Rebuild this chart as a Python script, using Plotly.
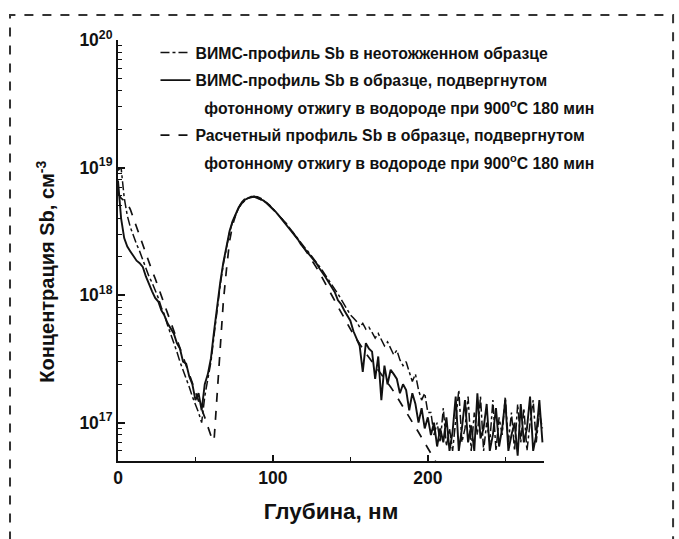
import numpy as np
import plotly.graph_objects as go

# Depth grid of the SIMS / model profiles, nm
DEPTH_STEP = 2.0

# Sb concentration, units of 1e17 cm^-3
sb_unannealed = [
    95, 100, 58, 42, 34, 29, 25, 22, 19, 16,
    14, 12.5, 11, 9.5, 8.0, 7.0, 5.8, 5.0, 4.3, 3.6,
    3.0, 2.6, 2.2, 1.9, 1.6, 1.4, 1.2, 1.0, 1.6, 2.2,
    3.0, 4.8, 7.8, 12, 17.5, 23.5, 31, 37.5, 43, 48.5,
    52, 55.5, 57.5, 58.5, 59, 58, 56.5, 55, 53, 50.5,
    47.5, 45, 42, 39.5, 37, 34.5, 32, 30, 28, 26,
    24, 22.5, 21, 19.5, 18.2, 16.8, 15.5, 14.3, 13.2, 12.2,
    11.2, 10.2, 9.3, 8.5, 7.8, 7.0, 6.6, 6.2, 5.6, 6.0,
    5.4, 5.6, 5.1, 4.6, 5.0, 4.4, 4.0, 4.3, 3.8, 3.4,
    3.7, 3.1, 2.8, 3.0, 2.5, 2.1, 2.4, 1.8, 1.5, 1.7,
    1.2, 1.2, 0.8, 1.0, 0.7, 1.3, 0.65, 0.9, 0.6, 1.1,
    1.8, 0.7, 0.9, 1.6, 0.6, 1.2, 0.8, 1.6, 0.6, 1.0,
    0.7, 1.5, 0.6, 1.1, 0.8, 1.6, 0.7, 1.2, 0.6, 1.4,
    0.7, 1.3, 0.6, 1.0, 1.5, 0.7, 1.2, 0.9,
]

sb_annealed = [
    79, 40, 28, 24, 22, 20, 18.6, 17.8, 16.6, 14,
    12, 10.7, 9.5, 8.9, 7.6, 6.9, 6.0, 5.5, 5.0, 4.2,
    3.8, 3.0, 2.9, 2.3, 2.0, 1.5, 1.7, 1.25, 2.0, 2.4,
    3.2, 5.2, 8.3, 12.6, 18, 24, 31.6, 38, 43.6, 49,
    52.5, 56, 57.5, 59, 59, 57.5, 56, 55, 52.5, 50,
    46.8, 44.7, 41.7, 38.9, 36.3, 33.9, 31.6, 29.5, 27.5, 25.1,
    23.4, 21.9, 20.4, 19.1, 17.8, 16.2, 15.1, 13.8, 12.6, 11.5,
    10.5, 9.1, 8.5, 7.6, 6.9, 6.3, 5.2, 4.6, 4.0, 2.5,
    4.2, 3.8, 3.6, 2.2, 3.3, 1.5, 2.8, 2.0, 2.6, 2.4,
    2.2, 1.7, 2.0, 1.8, 1.25, 1.7, 1.4, 1.0, 1.3, 0.9,
    1.1, 0.8, 1.0, 0.65, 0.9, 0.7, 1.1, 0.6, 0.85, 1.6,
    0.6, 0.9, 1.5, 0.7, 0.95, 0.6, 1.7, 0.75, 0.9, 1.4,
    0.6, 0.8, 1.3, 0.65, 0.9, 1.5, 0.6, 0.8, 1.0, 0.55,
    1.4, 0.7, 0.9, 1.6, 0.6, 0.8, 1.5, 0.7,
]

sb_model = [
    63, 57.5, 55, 52.5, 46.8, 39.8, 33.9, 29.5, 25.1, 21.4,
    18.2, 15.5, 13.5, 11.5, 9.8, 8.3, 7.1, 6.2, 5.2, 4.5,
    3.8, 3.2, 2.8, 2.4, 2.0, 1.74, 1.48, 1.29, 1.10, 0.93,
    0.79, 0.72, 1.58, 4.0, 8.9, 15.8, 26.3, 35.5, 42.7, 49,
    53.7, 56.9, 58.9, 59.6, 59.6, 58.9, 57.5, 55.6, 53.1, 50.1,
    47.3, 44.8, 42.2, 39.6, 37.0, 34.5, 32.1, 29.8, 27.6, 25.5,
    23.5, 21.6, 19.8, 18.1, 16.5, 15.0, 13.6, 12.3, 11.1, 10.0,
    9.0, 8.1, 7.3, 6.6, 6.0, 5.4, 4.9, 4.5, 4.1, 3.8,
    3.5, 3.25, 3.0, 2.8, 2.6, 2.4, 2.2, 2.05, 1.9, 1.75,
    1.6, 1.47, 1.35, 1.23, 1.12, 1.02, 0.92, 0.84, 0.76, 0.69,
    0.63, 0.57, 0.52, 0.47, 0.43,
]

UNIT = 1e17

legend_names = [
    "ВИМС-профиль Sb в неотожженном образце",
    "ВИМС-профиль Sb в образце, подвергнутом",
    "\u00a0\u00a0фотонному отжигу в водороде при 900<sup>o</sup>C 180 мин",
    "Расчетный профиль Sb в образце, подвергнутом",
    "\u00a0\u00a0фотонному отжигу в водороде при 900<sup>o</sup>C 180 мин",
]

y_tick_vals = [1e17, 1e18, 1e19, 1e20]
y_tick_text = ["10<sup>17</sup>", "10<sup>18</sup>", "10<sup>19</sup>", "10<sup>20</sup>"]
x_tick_vals = [0, 100, 200]

x_title = "Глубина, нм"
y_title = "Концентрация Sb, см<sup>-3</sup>"


def depth(values):
    return np.arange(len(values)) * DEPTH_STEP


def conc(values):
    return np.array(values) * UNIT


INK = "#111111"
fig = go.Figure()

fig.add_trace(go.Scatter(
    x=depth(sb_unannealed), y=conc(sb_unannealed), mode="lines",
    name=legend_names[0], legendgroup="g0",
    line=dict(color=INK, width=1.5, dash="dashdot"),
))
fig.add_trace(go.Scatter(
    x=depth(sb_annealed), y=conc(sb_annealed), mode="lines",
    name=legend_names[1], legendgroup="g1",
    line=dict(color=INK, width=1.9),
))
# continuation line of the second legend entry
fig.add_trace(go.Scatter(
    x=[None], y=[None], mode="lines", name=legend_names[2], legendgroup="g2",
    line=dict(color="rgba(0,0,0,0)", width=0), hoverinfo="skip",
))
fig.add_trace(go.Scatter(
    x=depth(sb_model), y=conc(sb_model), mode="lines",
    name=legend_names[3], legendgroup="g3",
    line=dict(color=INK, width=1.7, dash="dash"),
))
fig.add_trace(go.Scatter(
    x=[None], y=[None], mode="lines", name=legend_names[4], legendgroup="g4",
    line=dict(color="rgba(0,0,0,0)", width=0), hoverinfo="skip",
))

FONT = "Liberation Sans, Arial, sans-serif"

fig.update_layout(
    width=679, height=539,
    margin=dict(l=118, r=135, t=40, b=78),
    paper_bgcolor="white", plot_bgcolor="white",
    font=dict(family=FONT, color=INK, size=15),
    showlegend=True,
    legend=dict(
        x=0.088, y=1.01, xanchor="left", yanchor="top",
        bgcolor="rgba(0,0,0,0)", borderwidth=0,
        font=dict(size=15.8, family=FONT, color=INK, weight="bold"),
        tracegroupgap=4, itemclick=False, itemdoubleclick=False,
    ),
    xaxis=dict(
        range=[0, 275], showgrid=False, zeroline=False,
        showline=True, linecolor=INK, linewidth=2, mirror=False,
        ticks="inside", ticklen=6, tickwidth=1.5, tickcolor=INK,
        tickvals=x_tick_vals, tickfont=dict(size=17.5, weight="bold"),
        minor=dict(ticks="inside", ticklen=4, tickwidth=1.2, tickcolor=INK, dtick=50, showgrid=False),
        title=dict(text=x_title, font=dict(size=22.5, weight="bold"), standoff=16),
    ),
    yaxis=dict(
        type="log", range=[np.log10(5e16), 20], showgrid=False, zeroline=False,
        showline=True, linecolor=INK, linewidth=2, mirror=False,
        ticks="inside", ticklen=7, tickwidth=1.5, tickcolor=INK,
        tickvals=y_tick_vals, ticktext=y_tick_text, tickfont=dict(size=17.5, weight="bold"),
        minor=dict(ticks="inside", ticklen=4, tickwidth=1.2, tickcolor=INK, dtick="D1", showgrid=False),
    ),
    annotations=[
        # y-axis title, set slightly below the middle of the axis
        dict(text=y_title, xref="paper", yref="paper", x=-0.171, y=0.45,
             xanchor="center", yanchor="middle", textangle=-90, showarrow=False,
             font=dict(size=20, weight="bold", family=FONT, color=INK)),
    ],
    shapes=[
        dict(type="rect", xref="paper", yref="paper",
             x0=-0.2535, x1=1.303, y0=-0.25, y1=1.0594,
             line=dict(color="#333333", width=2, dash="dash"),
             fillcolor="rgba(0,0,0,0)", layer="below"),
    ],
)

fig.write_html("out.html")
